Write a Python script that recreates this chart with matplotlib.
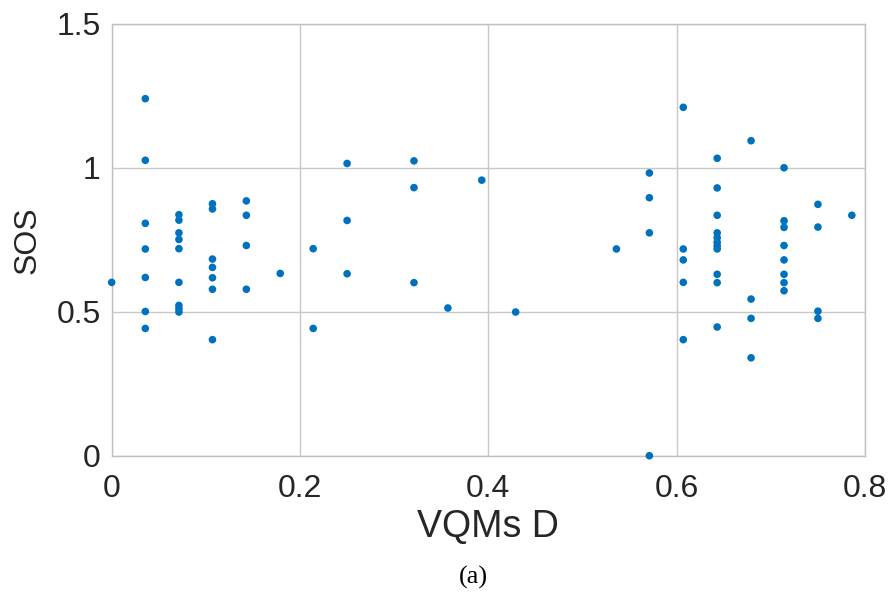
import matplotlib.pyplot as plt
import numpy as np

# VQMs D (x) and SOS (y) values
vqm_d = [0.0,
         0.0357, 0.0357, 0.0357, 0.0357, 0.0357, 0.0357, 0.0357,
         0.0714, 0.0714, 0.0714, 0.0714, 0.0714, 0.0714, 0.0714, 0.0714, 0.0714,
         0.107, 0.107, 0.107, 0.107, 0.107, 0.107, 0.107,
         0.143, 0.143, 0.143, 0.143,
         0.179,
         0.214, 0.214,
         0.25, 0.25, 0.25,
         0.321, 0.321, 0.321,
         0.357, 0.393, 0.429,
         0.536,
         0.571, 0.571, 0.571, 0.571,
         0.607, 0.607, 0.607, 0.607, 0.607,
         0.643, 0.643, 0.643, 0.643, 0.643, 0.643, 0.643, 0.643, 0.643, 0.643, 0.643,
         0.679, 0.679, 0.679, 0.679,
         0.714, 0.714, 0.714, 0.714, 0.714, 0.714, 0.714, 0.714,
         0.75, 0.75, 0.75, 0.75,
         0.786]
sos = [0.602,
       1.240, 1.026, 0.807, 0.718, 0.619, 0.501, 0.442,
       0.837, 0.818, 0.774, 0.751, 0.719, 0.602, 0.522, 0.511, 0.499,
       0.875, 0.857, 0.683, 0.654, 0.618, 0.578, 0.403,
       0.885, 0.835, 0.730, 0.578,
       0.633,
       0.719, 0.442,
       1.015, 0.817, 0.632,
       1.024, 0.931, 0.601,
       0.513, 0.957, 0.499,
       0.718,
       0.982, 0.896, 0.774, 0.0,
       1.210, 0.718, 0.680, 0.602, 0.403,
       1.033, 0.930, 0.835, 0.774, 0.757, 0.741, 0.729, 0.718, 0.630, 0.601, 0.447,
       1.094, 0.544, 0.477, 0.340,
       1.000, 0.816, 0.793, 0.730, 0.680, 0.630, 0.601, 0.573,
       0.873, 0.794, 0.502, 0.477,
       0.835]

xticks = [0, 0.2, 0.4, 0.6, 0.8]
yticks = [0, 0.5, 1, 1.5]

plt.rcParams['font.family'] = ['Liberation Sans', 'DejaVu Sans']

fig = plt.figure(figsize=(8.95, 5.95), dpi=100)
ax = fig.add_axes([0.1248, 0.2341, 0.9665 - 0.1248, 0.960 - 0.2341])

ax.scatter(vqm_d, sos, s=30, color='#0072BD', edgecolors='none', zorder=3, clip_on=False)

ax.set_xlim(0, 0.8)
ax.set_ylim(0, 1.5)
ax.set_xticks(xticks)
ax.set_yticks(yticks)
ax.set_xticklabels(['0', '0.2', '0.4', '0.6', '0.8'])
ax.set_yticklabels(['0', '0.5', '1', '1.5'])
ax.tick_params(length=0, labelsize=23, colors='#262626')
ax.tick_params(axis='x', pad=13)
ax.tick_params(axis='y', pad=8)
ax.grid(True, color='#c8c8c8', linewidth=1)
for sp in ax.spines.values():
    sp.set_color('#c0c0c0')
    sp.set_linewidth(1)

ax.set_xlabel('VQMs D', fontsize=27, color='#262626', labelpad=4)
ax.set_ylabel('SOS', fontsize=23, color='#262626')
ax.yaxis.set_label_coords(-0.092, 0.5)

fig.text(0.5285, 0.029, '(a)', fontsize=19, family='Liberation Serif', ha='center', va='center')

plt.savefig('out.png', dpi=100)
